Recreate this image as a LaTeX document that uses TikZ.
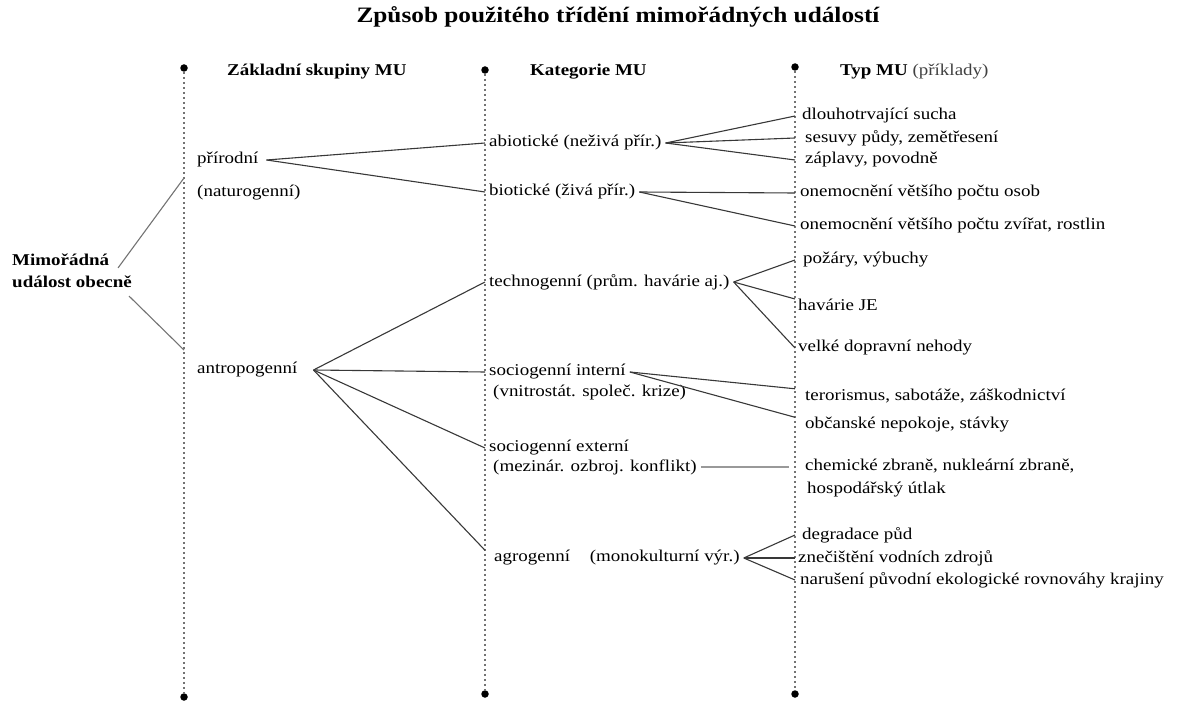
\documentclass[tikz,border=0pt]{standalone}
\usepackage{fontspec}
\setmainfont{Liberation Serif}[FakeStretch=1.15]
\tikzset{
    item/.style={anchor=west, inner xsep=5pt, inner ysep=0pt, font=\fontsize{16.5}{19}\selectfont},
    head/.style={anchor=west, inner sep=0pt, font=\bfseries\fontsize{16.5}{19}\selectfont},
    link/.style={draw=black!78, line width=1.1pt},
    guide/.style={draw=black!55, line width=1.1pt, dash pattern=on 2.5pt off 2.5pt},
    dot/.style={circle, fill=black, inner sep=0pt, minimum size=7.5pt}
}
\begin{document}
\begin{tikzpicture}[x=1pt,y=-1pt]
    \useasboundingbox (0,0) rectangle (1178,703);
    \node[font=\bfseries\fontsize{22}{24}\selectfont] (title) at (618,17) {Způsob použitého třídění mimořádných událostí};
    \foreach \i/\x/\t/\b in {1/184/68/697, 2/485/70/694, 3/795/67/694}
    {
        \node[dot] (t\i) at (\x,\t) {};
        \node[dot] (b\i) at (\x,\b) {};
        \draw[guide] (t\i) -- (b\i);
    }
    \node[head] (h1) at (227,72) {Základní skupiny MU};
    \node[head] (h2) at (530,72) {Kategorie MU};
    \node[head,font=\fontsize{16.5}{19}\selectfont] (h3) at (840,72) {\textbf{Typ MU} \textcolor{black!75}{(příklady)}};
    % zakladni skupiny
    \node[head, align=left, font=\bfseries\fontsize{16.5}{22}\selectfont] (mimo) at (12,271) {Mimořádná\\událost obecně};
    \node[item, inner xsep=8pt] (prir) at (189,160) {přírodní};
    \node[item, inner xsep=8pt] (natur) at (189,193) {(naturogenní)};
    \node[item, inner xsep=16pt] (antro) at (181,370) {antropogenní};
    \coordinate (pjoin) at (184,178);
    \coordinate (ajoin) at (184,350);
    % kategorie
    \node[item, inner xsep=4pt] (abio) at (485,143) {abiotické (neživá přír.)};
    \node[item, inner xsep=4pt] (bio) at (485,192) {biotické (živá přír.)\hspace{8pt}};
    \node[item, inner xsep=4pt] (tech) at (485,282) {technogenní (prům. havárie aj.)};
    \node[item, inner xsep=4pt] (sint) at (485,372) {sociogenní interní\hspace{8pt}};
    \node[item, inner xsep=4pt] (sint2) at (485,393) {\hspace{4pt}(vnitrostát. společ. krize)};
    \node[item, inner xsep=4pt] (sext) at (485,448) {sociogenní externí};
    \node[item, inner xsep=4pt] (sext2) at (485,467) {\hspace{4pt}(mezinár. ozbroj. konflikt)\hspace{6pt}};
    \node[item, inner xsep=4pt] (agro) at (485,558) {\hspace{5pt}agrogenní\hspace{1.2em}(monokulturní výr.)\hspace{3pt}};
    % typ MU
    \foreach \n/\y/\d/\t in {d1/116/2/{dlouhotrvající sucha}, d2/138/5/{sesuvy půdy, zemětřesení},
        d3/160/5/{záplavy, povodně}, d4/193/0/{onemocnění většího počtu osob},
        d5/226/0/{onemocnění většího počtu zvířat, rostlin}, d6/260/3/{požáry, výbuchy},
        d7/305/-2/{havárie JE}, d8/348/-2/{velké dopravní nehody},
        d9/396/5/{terorismus, sabotáže, záškodnictví}, d10/425/5/{občanské nepokoje, stávky},
        d11/466/5/{chemické zbraně, nukleární zbraně,}, d12/490/7/{hospodářský útlak},
        d13/535/2/{degradace půd}, d14/558/-2/{znečištění vodních zdrojů},
        d15/580/0/{narušení původní ekologické rovnováhy krajiny}}
        \node[item] (\n) at (795,\y) {\hspace{\d pt}\t};
    % spojnice
    \draw[link, draw=black!55] ([shift={(-14,14)}]mimo.north east) -- (pjoin);
    \draw[link, draw=black!55] ([shift={(-3,8)}]mimo.south east) -- (ajoin);
    \foreach \a/\b in {prir/abio.west, prir/bio.west,
        antro/tech.west, antro/sint.west, antro/sext.west, antro/agro.north west,
        abio/d1.west, abio/d2.west, abio/d3.west, bio/d4.west, bio/d5.west,
        tech/d6.west, tech/d7.north west, tech/d8.west,
        sint/d9.north west, sint/d10.north west,
        agro/d13.west, agro/d14.west, agro/d15.west}
        \draw[link] (\a.east) -- (\b);
    \draw[link, draw=black!40, line width=1.8pt] (sext2.east) -- ([xshift=-6pt]sext2.east -| d11.west);
\end{tikzpicture}
\end{document}
